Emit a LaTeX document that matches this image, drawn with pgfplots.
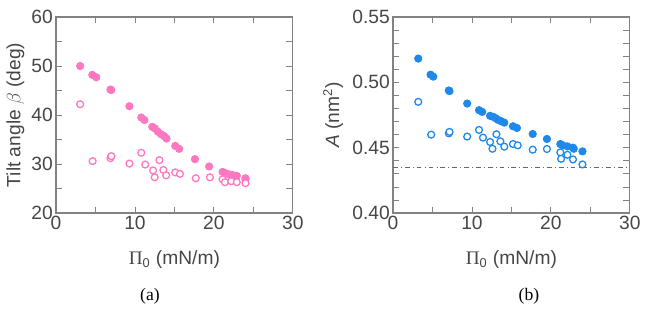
\documentclass[border=0pt]{standalone}
\usepackage{pgfplots}
\pgfplotsset{compat=1.18}
\usepackage{fontspec}
\setmainfont{Liberation Sans}
\newfontfamily\seriffont{Liberation Serif}
\definecolor{pinkc}{RGB}{255,119,192}
\definecolor{bluec}{RGB}{30,136,235}
\definecolor{framec}{RGB}{130,130,130}
\definecolor{textc}{RGB}{70,70,70}
\pgfplotsset{
  common/.style={
    scale only axis, width=148pt, height=122.5pt,
    xmin=0, xmax=30, xtick={0,10,20,30}, minor x tick num=1,
    axis line style={framec, line width=0.8pt},
    every tick/.style={framec, line width=0.5pt},
    major tick length=4pt, minor tick length=4pt,
    tick align=inside,
    ticklabel style={font=\fontsize{12}{14}\selectfont, text=textc},
    yticklabel style={xshift=1.5pt},
    xticklabel style={yshift=1.5pt},
    label style={font=\fontsize{12}{14}\selectfont, text=textc},
    /pgf/number format/assume math mode=true,
    xlabel={{\seriffont Π}\textsubscript{0} (mN/m)},
    xlabel style={yshift=-6pt},
  },
  fill/.style={only marks, mark=*, mark size=2.3pt, mark options={draw=#1, fill=#1, line width=0.5pt}},
  open/.style={only marks, mark=*, mark size=2.15pt, mark options={draw=#1, fill=white, line width=0.8pt}},
}
\begin{document}
\begin{tikzpicture}
\path[use as bounding box] (0,0) rectangle (403.1pt,194.4pt);
\begin{axis}[common, at={(35pt,61.25pt)}, anchor=south west,
  ymin=20, ymax=60, ytick={20,30,40,50,60}, minor y tick num=1,
  ylabel={Tilt angle $\beta$ (deg)}, ylabel style={yshift=-2.5pt}]
\addplot[fill=pinkc] coordinates {
(3.06,50.0) (4.6,48.2) (5.1,47.7) (6.9,45.2) (7.0,45.1) (9.3,41.8) (10.8,39.5) (11.2,39.0)
(12.2,37.6) (12.5,37.3) (12.9,36.6) (13.3,36.1) (13.7,35.7) (14.0,35.2) (15.1,33.7) (15.6,33.1)
(17.6,31.0) (19.4,29.5) (21.1,28.4) (21.4,28.2) (21.9,27.9) (22.3,27.8) (22.9,27.6) (24.0,27.1) (24.0,26.8)};
\addplot[open=pinkc] coordinates {
(3.06,42.2) (4.64,30.6) (6.9,31.2) (7.0,31.6) (9.3,30.1) (10.8,32.3) (11.3,29.9) (12.3,28.7)
(12.5,27.3) (13.1,30.8) (13.6,28.8) (13.96,27.7) (15.1,28.3) (15.7,28.0) (17.7,27.1) (19.5,27.3)
(21.1,26.9) (21.4,26.3) (22.2,26.5) (22.9,26.3) (24.0,26.1)};
\end{axis}
\begin{axis}[common, at={(245.6pt,61.25pt)}, anchor=south west,
  ymin=0.40, ymax=0.55, ytick={0.40,0.45,0.50,0.55}, minor y tick num=4,
  yticklabel style={/pgf/number format/.cd, fixed, fixed zerofill, precision=2},
  ylabel={\textit{A} (nm\textsuperscript{2})}, ylabel style={yshift=-1pt}]
\addplot[framec!80!black, dash dot, line width=0.5pt] coordinates {(0,0.4346) (30,0.4346)};
\addplot[fill=bluec] coordinates {
(3.2,0.5182) (4.76,0.5059) (5.1,0.5044) (7.07,0.4938) (7.16,0.4933) (9.4,0.4838) (10.9,0.4787)
(11.3,0.4774) (12.3,0.4744) (12.7,0.4736) (13.0,0.4726) (13.3,0.4713) (13.7,0.4703) (14.1,0.4692)
(15.2,0.4664) (15.7,0.4651) (17.7,0.4605) (19.5,0.4567) (21.2,0.4528) (21.5,0.4518) (22.1,0.4510)
(22.8,0.4500) (22.9,0.4492) (24.0,0.4472)};
\addplot[open=bluec] coordinates {
(3.2,0.4851) (4.84,0.4600) (7.07,0.4610) (7.16,0.4621) (9.4,0.4585) (10.9,0.4636) (11.4,0.4577)
(12.3,0.4544) (12.6,0.4492) (13.1,0.4603) (13.6,0.4549) (14.1,0.4508) (15.2,0.4528) (15.8,0.4518)
(17.7,0.4485) (19.5,0.4490) (21.2,0.4464) (21.3,0.4415) (22.1,0.4446) (22.8,0.4410) (24.0,0.4372)};
\end{axis}
\node[font=\seriffont\fontsize{11}{13}\selectfont, text=black] at (93.75pt,9.4pt) {(a)};
\node[font=\seriffont\fontsize{11}{13}\selectfont, text=black] at (330.6pt,9.4pt) {(b)};
\end{tikzpicture}
\end{document}
